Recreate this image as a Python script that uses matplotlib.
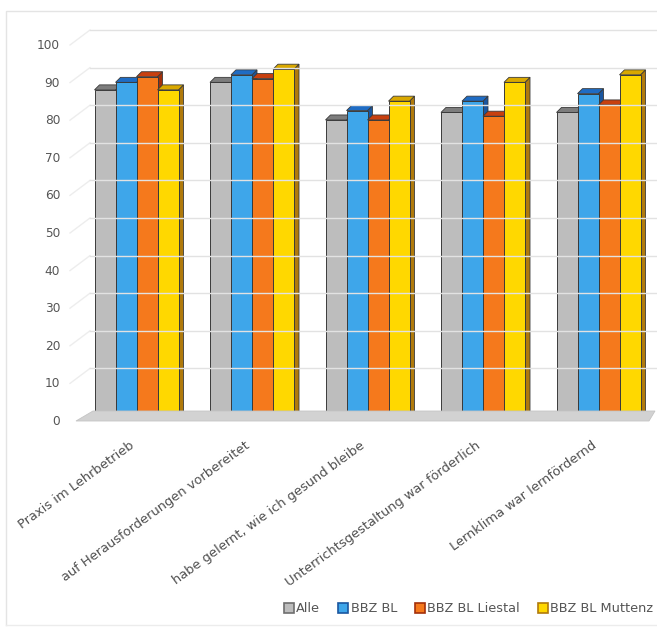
import matplotlib
matplotlib.use("Agg")
import matplotlib.pyplot as plt
import matplotlib.transforms as mtransforms
from matplotlib.patches import Polygon, Patch
import numpy as np

plt.rcParams["font.family"] = ["DejaVu Sans"]

categories = ["Praxis im Lehrbetrieb", "auf Herausforderungen vorbereitet",
              "habe gelernt, wie ich gesund bleibe",
              "Unterrichtsgestaltung war förderlich", "Lernklima war lernfördernd"]
series_names = ["Alle", "BBZ BL", "BBZ BL Liestal", "BBZ BL Muttenz"]
alle = [87, 89, 79, 81, 81]
bbz_bl = [89, 91, 81.5, 84, 86]
liestal = [90.5, 90, 79, 80, 83]
muttenz = [87, 92.5, 84, 89, 91]
yticks = [0, 10, 20, 30, 40, 50, 60, 70, 80, 90, 100]

series = [alle, bbz_bl, liestal, muttenz]
front_c = ["#bdbdbd", "#3ea6ea", "#f5791c", "#ffd800"]
top_c = ["#7d7d7d", "#1f6cc4", "#c8400f", "#d9a800"]
side_c = ["#6e6e6e", "#1a56a0", "#a3300a", "#b07a0c"]
edge_c = "#3a3a3a"

W, H = 657, 630
fig = plt.figure(figsize=(W / 100, H / 100), dpi=100)
T = mtransforms.Affine2D().scale(1 / W, -1 / H).translate(0, 1) + fig.transFigure

# axes: front plane, y=0 at px 417, y=100 at px 41
ax_l, ax_r = 72, 652
ax_b, ax_t = 417, 41
ax = fig.add_axes([ax_l / W, 1 - ax_b / H, (ax_r - ax_l) / W, (ax_b - ax_t) / H])
ax.set_ylim(0, 100)
spacing_px = 115.5
x0 = (136.5 - ax_l) / spacing_px
ax.set_xlim(-x0, -x0 + (ax_r - ax_l) / spacing_px)
for s in ax.spines.values():
    s.set_visible(False)
ax.set_facecolor("none")
ax.set_yticks([])

# frame
fig.add_artist(plt.Line2D([6, 6, 700], [625, 11, 11], transform=T, color="#e4e4e4", lw=1))
fig.add_artist(plt.Line2D([6, 700], [625, 625], transform=T, color="#ececec", lw=1))

# back wall gridlines + left wall diagonals
px_per = (ax_b - ax_t) / 100.0
for v in yticks[1:]:
    fy = ax_b - px_per * v
    by = fy - 11
    fig.add_artist(plt.Line2D([70, 90], [fy + 4, by], transform=T, color="#ededed", lw=1))
    fig.add_artist(plt.Line2D([90, 657], [by, by], transform=T, color="#e2e2e2", lw=1))

# floor
floor = Polygon([[76, 421], [93, 411], [655, 411], [649, 421]], closed=True,
                transform=T, facecolor="#d2d2d2", edgecolor="#c4c4c4", lw=0.6)
fig.add_artist(floor)

# bars
x = np.arange(len(categories))
bw = 21 / spacing_px
dx = 5 / spacing_px
dy = 5 / px_per
offsets = (np.arange(4) - 1.5) * bw
for ci in range(len(categories)):
    for si in range(4):
        xl = x[ci] + offsets[si] - bw / 2
        xr = xl + bw
        h = series[si][ci]
        side = Polygon([[xr, 0], [xr + dx, dy], [xr + dx, h + dy], [xr, h]], closed=True,
                       facecolor=side_c[si], edgecolor=edge_c, lw=0.6, zorder=3)
        top = Polygon([[xl, h], [xl + dx, h + dy], [xr + dx, h + dy], [xr, h]], closed=True,
                      facecolor=top_c[si], edgecolor=edge_c, lw=0.6, zorder=3)
        ax.add_patch(side)
        ax.add_patch(top)
        ax.bar(x[ci] + offsets[si], h, width=bw, color=front_c[si], edgecolor=edge_c,
               lw=0.7, zorder=3)

# y labels
ytrans = ax.get_yaxis_transform() + mtransforms.ScaledTranslation(0, -0.045, fig.dpi_scale_trans)
for v in yticks:
    ax.text((60 - ax_l) / (ax_r - ax_l), v, str(v), transform=ytrans, ha="right", va="center",
            fontsize=8.7, color="#555555")

# x labels
ax.set_xticks(x)
ax.set_xticklabels(categories, rotation=36, ha="right", va="top", rotation_mode="anchor",
                   fontsize=9.4, color="#505050")
ax.tick_params(axis="x", length=0, pad=16)
xoff = mtransforms.ScaledTranslation(-0.075, 0, fig.dpi_scale_trans)
for lab in ax.get_xticklabels():
    lab.set_transform(lab.get_transform() + xoff)

# legend
handles = [Patch(facecolor=front_c[i], edgecolor=side_c[i], lw=1.2) for i in range(4)]
fig.legend(handles, series_names, loc="center right", bbox_to_anchor=(665 / W, 1 - 609 / H),
           ncol=4, frameon=False, fontsize=9.3, handlelength=0.75, handleheight=0.75,
           handletextpad=0.2, columnspacing=1.4, labelcolor="#555555")

fig.savefig("out.png", dpi=100)
